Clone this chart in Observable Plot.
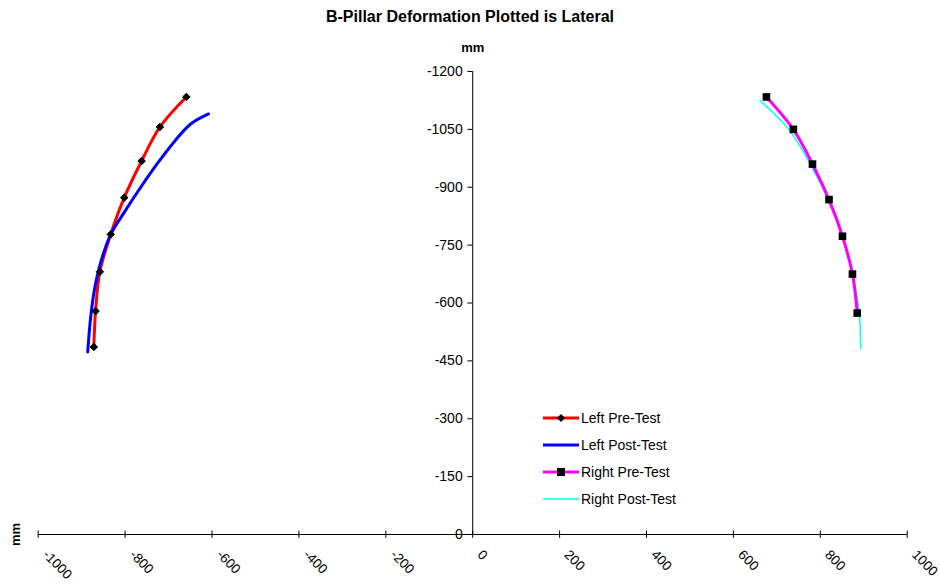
<!DOCTYPE html>
<html><head><meta charset="utf-8">
<script src="https://cdn.jsdelivr.net/npm/d3@7"></script>
<script src="https://cdn.jsdelivr.net/npm/@observablehq/plot@0.6"></script>
<style>
body{margin:0;background:#fff;font-family:"Liberation Sans",Arial,sans-serif;}
#wrap{position:relative;width:940px;height:584px;}
#title{position:absolute;left:0;top:8px;width:940px;text-align:center;font-weight:bold;font-size:16px;line-height:18px;}
#legend{position:absolute;left:543px;top:404px;font-size:14px;}
.row{display:flex;align-items:center;height:27px;}
.row svg{margin-right:2px;}
</style></head><body>
<div id="wrap"><div id="title">B-Pillar Deformation Plotted is Lateral</div><div id="legend"></div></div>
<script>
const seriesNames = ["Left Pre-Test", "Left Post-Test", "Right Pre-Test", "Right Post-Test"];
const seriesColors = ["#FF0000", "#0000FF", "#FF00FF", "#00FFFF"];

const leftPreX  = [-659, -720, -762, -802, -833, -858, -868, -872];
const leftPreY  = [-1134, -1056, -968, -873, -778, -681, -579, -486];
const leftPostX = [-608, -649, -684, -726, -764, -802, -833, -856, -871, -880, -886];
const leftPostY = [-1090, -1064, -1022, -961, -900, -835, -778, -706, -632, -555, -473];
const rightPreX = [676, 738, 782, 820, 851, 874, 885];
const rightPreY = [-1134, -1050, -960, -868, -773, -675, -574];
const rightPostX = [661, 726, 776, 818, 852, 875, 889, 893];
const rightPostY = [-1125, -1052, -962, -868, -770, -671, -581, -481];

const xTicks = [-1000, -800, -600, -400, -200, 0, 200, 400, 600, 800, 1000];
const yTicks = [0, -150, -300, -450, -600, -750, -900, -1050, -1200];

const toPts = (xs, ys) => xs.map((x, i) => ({x, y: ys[i]}));
const leftPre = toPts(leftPreX, leftPreY);
const leftPost = toPts(leftPostX, leftPostY);
const rightPre = toPts(rightPreX, rightPreY);
const rightPost = toPts(rightPostX, rightPostY);

const xMin = d3.min(xTicks), xMax = d3.max(xTicks);
const yMin = d3.max(yTicks), yMax = d3.min(yTicks);

const chart = Plot.plot({
  width: 940, height: 584,
  marginLeft: 37.7, marginRight: 33.3, marginTop: 71, marginBottom: 50,
  style: {fontFamily: "'Liberation Sans', Arial, sans-serif", fontSize: "14px", background: "transparent", color: "#000"},
  x: {domain: [xMin, xMax], axis: null},
  y: {domain: [yMin, yMax], axis: null},
  marks: [
    Plot.ruleY([0], {x1: xMin, x2: xMax, stroke: "#000", strokeWidth: 1}),
    Plot.ruleX(xTicks, {x: d => d, y1: 10, y2: -9, stroke: "#000"}),
    Plot.text(xTicks, {x: d => d, y: 0, text: d => String(d), rotate: 45, textAnchor: "start", dx: 7, dy: 18, fontSize: 13.5}),
    Plot.ruleX([0], {y1: yMin, y2: yMax, stroke: "#000"}),
    Plot.ruleY(yTicks, {y: d => d, x1: -11, x2: 0, stroke: "#000"}),
    Plot.text(yTicks, {x: 0, y: d => d, text: d => String(d), textAnchor: "end", dx: -10, fontSize: 14}),
    Plot.text(["mm"], {x: 0, y: yMax, dy: -24, text: d => d, fontWeight: "bold", fontSize: 13}),
    Plot.text(["mm"], {x: xMin, y: 0, dx: -22, rotate: -90, text: d => d, fontWeight: "bold", fontSize: 13}),
    Plot.line(leftPre, {x: "x", y: "y", stroke: seriesColors[0], strokeWidth: 3, curve: "catmull-rom"}),
    Plot.line(leftPost, {x: "x", y: "y", stroke: seriesColors[1], strokeWidth: 3, curve: "catmull-rom"}),
    Plot.line(rightPost, {x: "x", y: "y", stroke: seriesColors[3], strokeWidth: 1.5, curve: "catmull-rom"}),
    Plot.line(rightPre, {x: "x", y: "y", stroke: seriesColors[2], strokeWidth: 3, curve: "catmull-rom"}),
    Plot.dot(leftPre, {x: "x", y: "y", symbol: "diamond2", r: 3.4, fill: "#000", stroke: "#000", strokeWidth: 1}),
    Plot.dot(rightPre, {x: "x", y: "y", symbol: "square", r: 4.3, fill: "#000", stroke: "none"})
  ]
});
document.getElementById("wrap").prepend(chart);
chart.style.position = "absolute"; chart.style.left = "0"; chart.style.top = "0";

const legend = d3.select("#legend");
seriesNames.forEach((name, i) => {
  const row = legend.append("div").attr("class", "row");
  const s = row.append("svg").attr("width", 36).attr("height", 12);
  s.append("line").attr("x1", 0).attr("x2", 36).attr("y1", 6).attr("y2", 6)
    .attr("stroke", seriesColors[i]).attr("stroke-width", i === 3 ? 1.5 : 3);
  if (i === 0) s.append("path").attr("d", "M18,2L22,6L18,10L14,6Z").attr("fill", "#000");
  if (i === 2) s.append("rect").attr("x", 14).attr("y", 2).attr("width", 8).attr("height", 8).attr("fill", "#000");
  row.append("span").text(name);
});
</script></body></html>
